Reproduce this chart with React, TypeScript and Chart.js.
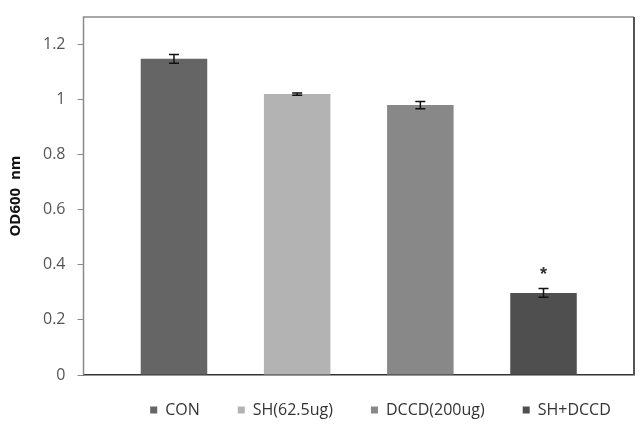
import React, { useEffect, useRef } from "react";
import { Chart, registerables } from "chart.js";

Chart.register(...registerables);

const seriesNames = ["CON", "SH(62.5ug)", "DCCD(200ug)", "SH+DCCD"];
const seriesValues = [1.148, 1.02, 0.98, 0.298];
const seriesErrors = [0.016, 0.004, 0.013, 0.016];
const seriesColors = ["#656565", "#b3b3b3", "#888888", "#4f4f4f"];
const significance = ["", "", "", "*"];
const yTicks = [0, 0.2, 0.4, 0.6, 0.8, 1, 1.2];
const yTitle = "OD600  nm";

const LEGEND_HEIGHT = 45;

const extrasPlugin = {
  id: "extras",
  beforeLayout(chart: any) {
    const lg = chart.legend;
    if (lg && !lg._fitPatched) {
      const orig = lg.fit.bind(lg);
      lg.fit = function () {
        orig();
        this.height = LEGEND_HEIGHT;
      };
      lg._fitPatched = true;
    }
  },
  afterLayout(chart: any) {
    const lg = chart.legend;
    if (lg) {
      lg.left += 60;
      lg.right += 60;
      lg.top -= 19;
      lg.bottom = chart.height;
    }
  },
  beforeDatasetsDraw(chart: any) {
    const { ctx, chartArea } = chart;
    ctx.save();
    ctx.strokeStyle = "#8a8a8a";
    ctx.lineWidth = 1.5;
    ctx.beginPath();
    ctx.moveTo(chartArea.left, chartArea.bottom);
    ctx.lineTo(chartArea.left, chartArea.top);
    ctx.lineTo(chartArea.right, chartArea.top);
    ctx.stroke();
    ctx.strokeStyle = "#555555";
    ctx.lineWidth = 2;
    ctx.beginPath();
    ctx.moveTo(chartArea.right, chartArea.top);
    ctx.lineTo(chartArea.right, chartArea.bottom);
    ctx.stroke();
    ctx.restore();
  },
  afterDatasetsDraw(chart: any) {
    const { ctx } = chart;
    const y = chart.scales.y;
    ctx.save();
    chart.data.datasets.forEach((ds: any, i: number) => {
      const meta = chart.getDatasetMeta(i);
      const bar = meta.data[0];
      if (!bar) return;
      const x = bar.x;
      const v = ds.data[0];
      const e = seriesErrors[i];
      const yTop = y.getPixelForValue(v + e);
      const yBot = y.getPixelForValue(v - e);
      ctx.strokeStyle = "#111111";
      ctx.lineWidth = 1.5;
      ctx.beginPath();
      ctx.moveTo(x, yTop);
      ctx.lineTo(x, yBot);
      ctx.moveTo(x - 5, yTop);
      ctx.lineTo(x + 5, yTop);
      ctx.moveTo(x - 5, yBot);
      ctx.lineTo(x + 5, yBot);
      ctx.stroke();
      if (significance[i]) {
        ctx.fillStyle = "#333333";
        ctx.font = "bold 18px 'Liberation Sans', Arial, sans-serif";
        ctx.textAlign = "center";
        ctx.textBaseline = "middle";
        ctx.fillText(significance[i], x, yTop - 13);
      }
    });
    ctx.restore();
  },
};

export default function App() {
  const ref = useRef<HTMLCanvasElement | null>(null);
  useEffect(() => {
    document.body.style.margin = "0";
    const canvas = ref.current;
    if (!canvas) return;
    const chart = new Chart(canvas, {
      type: "bar",
      data: {
        labels: [""],
        datasets: seriesNames.map((name, i) => ({
          label: name,
          data: [seriesValues[i]],
          backgroundColor: seriesColors[i],
          borderWidth: 0,
          categoryPercentage: 0.895,
          barPercentage: 0.54,
        })),
      },
      options: {
        responsive: false,
        animation: false,
        layout: { padding: { top: 17, right: 8, left: 7, bottom: 0 } },
        plugins: {
          tooltip: { enabled: false },
          legend: {
            position: "bottom",
            labels: {
              boxWidth: 7,
              boxHeight: 7,
              padding: 38,
              color: "#333333",
              font: { family: "'Open Sans', 'Noto Sans', sans-serif", size: 16 },
            },
          },
        },
        scales: {
          x: {
            grid: { display: false },
            ticks: { display: false },
            border: { display: true, color: "#333333", width: 1.5 },
          },
          y: {
            min: 0,
            max: 1.3,
            afterBuildTicks: (scale: any) => {
              scale.ticks = yTicks.map((v) => ({ value: v }));
            },
            afterFit: (scale: any) => {
              scale.paddingTop = 0;
            },
            grid: {
              drawOnChartArea: false,
              drawTicks: true,
              tickLength: 6,
              color: "#8a8a8a",
            },
            border: { display: false },
            ticks: {
              padding: 12,
              color: "#555555",
              font: { family: "'Open Sans', 'Noto Sans', sans-serif", size: 16 },
              callback: (v: any) => String(v),
            },
            title: {
              display: true,
              text: yTitle,
              color: "#111111",
              padding: { top: 0, bottom: 6 },
              font: { family: "'Open Sans', 'Liberation Sans', sans-serif", size: 15, weight: "bold" },
            },
          },
        },
      },
      plugins: [extrasPlugin],
    });
    return () => chart.destroy();
  }, []);
  return (
    <div style={{ width: 642, height: 428, background: "#fff" }}>
      <canvas ref={ref} width={642} height={428} />
    </div>
  );
}
